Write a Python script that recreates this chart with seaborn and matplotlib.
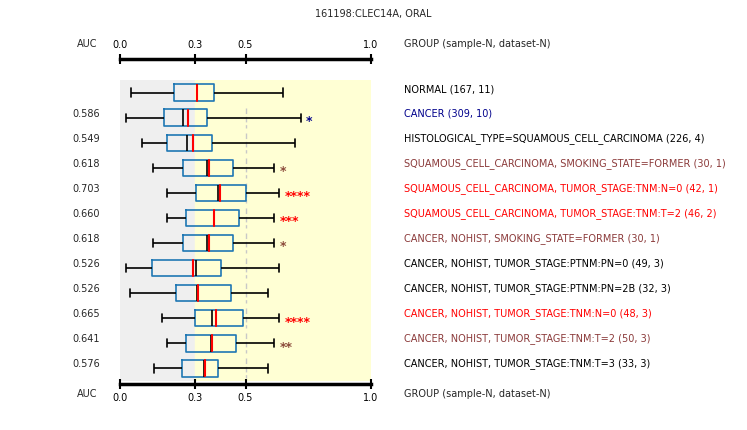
import numpy as np
import pandas as pd
import seaborn as sns
import matplotlib.pyplot as plt

groups = [
    "NORMAL (167, 11)",
    "CANCER (309, 10)",
    "HISTOLOGICAL_TYPE=SQUAMOUS_CELL_CARCINOMA (226, 4)",
    "SQUAMOUS_CELL_CARCINOMA, SMOKING_STATE=FORMER (30, 1)",
    "SQUAMOUS_CELL_CARCINOMA, TUMOR_STAGE:TNM:N=0 (42, 1)",
    "SQUAMOUS_CELL_CARCINOMA, TUMOR_STAGE:TNM:T=2 (46, 2)",
    "CANCER, NOHIST, SMOKING_STATE=FORMER (30, 1)",
    "CANCER, NOHIST, TUMOR_STAGE:PTNM:PN=0 (49, 3)",
    "CANCER, NOHIST, TUMOR_STAGE:PTNM:PN=2B (32, 3)",
    "CANCER, NOHIST, TUMOR_STAGE:TNM:N=0 (48, 3)",
    "CANCER, NOHIST, TUMOR_STAGE:TNM:T=2 (50, 3)",
    "CANCER, NOHIST, TUMOR_STAGE:TNM:T=3 (33, 3)",
]
auc = ["", "0.586", "0.549", "0.618", "0.703", "0.660", "0.618", "0.526", "0.526", "0.665", "0.641", "0.576"]
stars = ["", "*", "", "*", "****", "***", "*", "", "", "****", "**", ""]
label_colors = ["black", "#00008B", "black", "#8B3A3A", "#FF0000", "#FF0000", "#8B3A3A",
                "black", "black", "#FF0000", "#8B3A3A", "black"]
star_colors = ["black", "#00008B", "black", "#8B4A3A", "#FF0000", "#FF0000", "#8B4A3A",
               "black", "black", "#FF0000", "#8B4A3A", "black"]

whisk_lo = [0.043, 0.023, 0.089, 0.133, 0.186, 0.186, 0.133, 0.023, 0.039, 0.166, 0.186, 0.137]
q1 = [0.216, 0.177, 0.189, 0.252, 0.304, 0.264, 0.252, 0.129, 0.224, 0.300, 0.264, 0.248]
median = [0.305, 0.252, 0.268, 0.348, 0.389, 0.373, 0.348, 0.304, 0.308, 0.368, 0.364, 0.336]
q3 = [0.376, 0.348, 0.368, 0.451, 0.503, 0.475, 0.451, 0.404, 0.443, 0.491, 0.463, 0.391]
whisk_hi = [0.651, 0.722, 0.699, 0.615, 0.635, 0.615, 0.615, 0.635, 0.591, 0.635, 0.615, 0.591]
mean = [0.305, 0.272, 0.292, 0.356, 0.400, 0.376, 0.356, 0.292, 0.312, 0.384, 0.368, 0.340]

# five points per group reproduce the quartiles exactly
rows = []
for i, g in enumerate(groups):
    for v in (whisk_lo[i], q1[i], median[i], q3[i], whisk_hi[i]):
        rows.append({"group": g, "value": v})
df = pd.DataFrame(rows)

sns.set_style("white")
plt.rcParams["font.family"] = ["DejaVu Sans"]
FS = 7

W, H = 747, 430
fig = plt.figure(figsize=(W / 100, H / 100), dpi=100)
ax = fig.add_axes([120 / W, 1 - 381 / H, 251 / W, 301 / H])

ax.axvspan(0, 0.3, color="#efefef", zorder=0)
ax.axvspan(0.3, 1.0, color="#ffffd4", zorder=0)
for i in range(1, len(groups)):
    ax.plot([0.5, 0.5], [i - 0.4, i + 0.4], color="#c8c8c8", lw=1, dashes=(4, 2), zorder=1)

sns.boxplot(data=df, x="value", y="group", order=groups, whis=(0, 100), width=0.65,
            fill=False, linecolor="black", linewidth=1.2, ax=ax,
            capprops={"color": "black"}, whiskerprops={"color": "black"},
            medianprops={"color": "black", "linewidth": 1.2})

for i in range(len(groups)):
    ax.plot([mean[i]] * 2, [i - 0.32, i + 0.32], color="red", lw=1.5, zorder=4)
    if stars[i]:
        ax.text(whisk_hi[i] + 0.02, i + 0.15, stars[i], color=star_colors[i], va="center",
                ha="left", fontsize=9, fontweight="bold")

ax.set_xlim(0, 1)
ax.set_ylim(len(groups) - 0.5, -0.5)
ax.set_xticks([0, 0.3, 0.5, 1.0])
ax.set_xticklabels(["0.0", "0.3", "0.5", "1.0"])
ax.set_yticks([])
ax.set_xlabel("")
ax.set_ylabel("")
for s in ["left", "right"]:
    ax.spines[s].set_visible(False)
ax.spines["bottom"].set_position(("outward", 2))
ax.spines["top"].set_position(("outward", 15))
for s in ["top", "bottom"]:
    ax.spines[s].set_linewidth(2.5)
    ax.spines[s].set_color("black")
ax.tick_params(axis="x", top=True, labeltop=True, bottom=True, labelbottom=True,
               direction="inout", length=7, width=1.5, pad=3, labelsize=FS,
               colors="black")

for i in range(len(groups)):
    y = 1 - (89 + 25 * i) / H
    fig.text(100 / W, y, auc[i], ha="right", va="center", fontsize=FS)
    fig.text(404 / W, y, groups[i], ha="left", va="center", fontsize=FS, color=label_colors[i])

for yy in (44, 394):
    fig.text(77 / W, 1 - yy / H, "AUC", ha="left", va="center", fontsize=FS)
    fig.text(404 / W, 1 - yy / H, "GROUP (sample-N, dataset-N)", ha="left", va="center", fontsize=FS)
fig.text(373 / W, 1 - 14 / H, "161198:CLEC14A, ORAL", ha="center", va="center", fontsize=FS)

fig.savefig("out.png", dpi=100)
